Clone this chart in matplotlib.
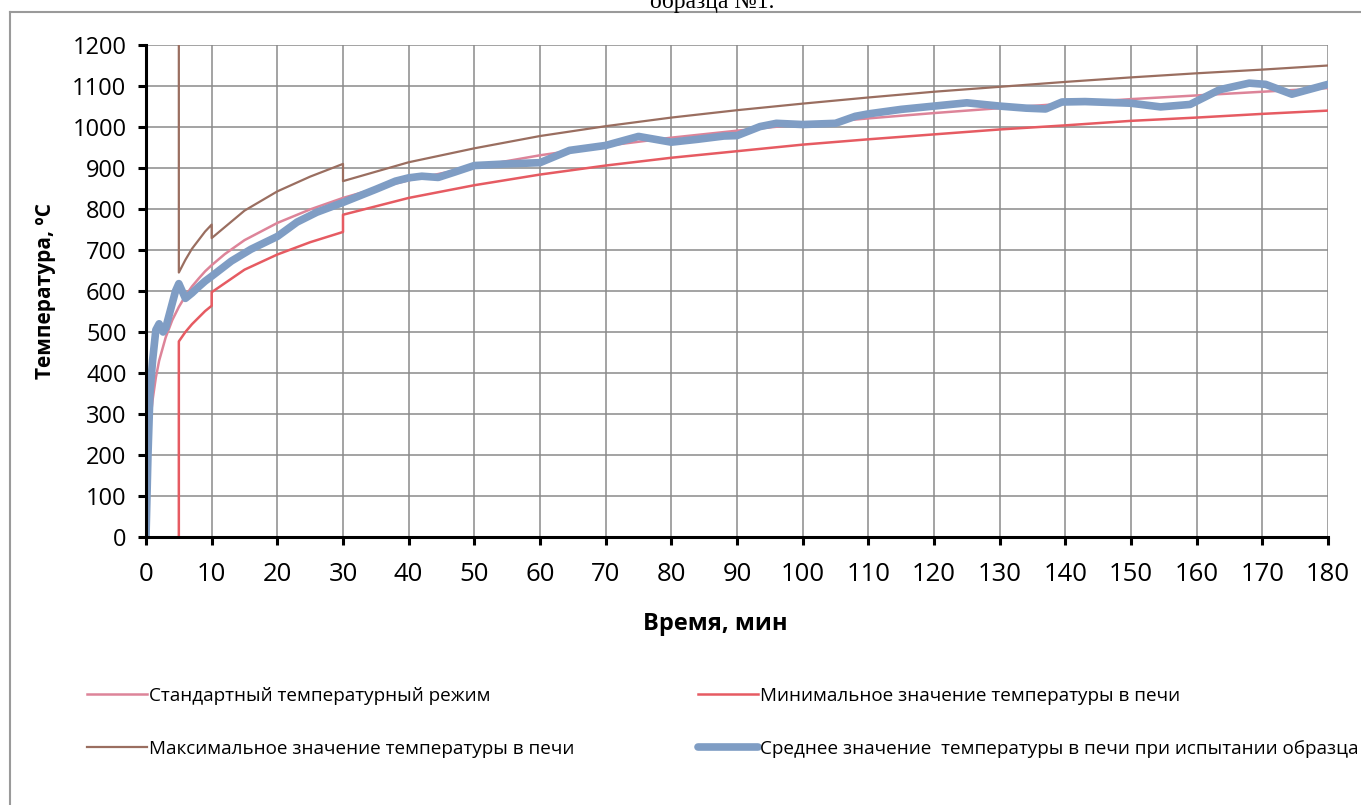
import matplotlib
matplotlib.use("Agg")
import matplotlib.pyplot as plt
from matplotlib.lines import Line2D

plt.rcParams['font.family'] = ['Open Sans', 'DejaVu Sans']

# standard fire curve
std_t = [0, 0.25, 0.5, 0.75, 1, 1.5, 2, 3, 4, 5, 6, 7, 8, 9, 10, 12, 15, 20, 25, 30,
         35, 40, 45, 50, 60, 70, 80, 90, 100, 110, 120, 130, 140, 150, 160, 170, 180]
std_T = [5, 170, 246, 297, 334, 389, 430, 487, 529, 561, 588, 611, 630, 648, 663, 690, 724, 766, 799, 827,
         850, 870, 887, 903, 931, 954, 974, 991, 1007, 1021, 1034, 1046, 1057, 1068, 1077, 1086, 1095]

# lower tolerance limit
min_t = [5, 5, 6, 7, 8, 9, 10, 10, 15, 20, 25, 30, 30, 40, 50, 60, 70, 80, 90,
         100, 110, 120, 130, 140, 150, 160, 170, 180]
min_T = [0, 477, 500, 519, 535, 551, 564, 597, 652, 689, 719, 744, 786, 827, 858, 884, 906, 925, 941,
         957, 970, 982, 994, 1004, 1015, 1023, 1032, 1040]

# upper tolerance limit
max_t = [5, 5, 6, 7, 8, 9, 10, 10, 15, 20, 25, 30, 30, 40, 50, 60, 70, 80, 90,
         100, 110, 120, 130, 140, 150, 160, 170, 180]
max_T = [1250, 645, 676, 703, 724, 745, 762, 729, 796, 843, 879, 910, 868, 914, 948, 978, 1002, 1023, 1041,
         1057, 1072, 1086, 1098, 1110, 1121, 1131, 1140, 1150]

# measured mean furnace temperature
avg_t = [0, 0.3, 0.6, 1, 1.5, 2, 2.6, 3, 3.5, 4, 4.5, 5, 5.5, 6, 7, 8, 9, 10, 13, 16, 20, 23, 26, 30,
         35, 38, 40, 42, 44.5, 47, 50, 55, 60, 64.5, 70, 75, 80, 84, 88, 90, 93.5, 96, 100, 105, 108,
         110, 115, 120, 125, 130, 134, 137, 139.5, 143, 150, 154.5, 159, 163.5, 168, 170.5, 174.5, 177, 180]
avg_T = [0, 200, 350, 430, 505, 520, 500, 510, 540, 570, 600, 618, 600, 582, 595, 610, 624, 636, 673, 702, 733, 768, 792, 816,
         848, 868, 876, 880, 877, 890, 906, 910, 913, 943, 955, 977, 963, 970, 978, 979, 1001, 1009, 1006, 1009, 1026,
         1032, 1043, 1051, 1059, 1051, 1046, 1044, 1061, 1062, 1058, 1049, 1055, 1091, 1107, 1104, 1080, 1091, 1104]

labels = ['Стандартный температурный режим',
          'Минимальное значение температуры в печи',
          'Максимальное значение температуры в печи',
          'Среднее значение  температуры в печи при испытании образца']

c_std = '#dd8499'
c_min = '#e65b62'
c_max = '#9a6e60'
c_avg = '#7f9dc4'

fig = plt.figure(figsize=(13.61, 8.05), dpi=100)
ax = fig.add_axes([146 / 1361, 1 - 537 / 805, (1328 - 146) / 1361, (537 - 45) / 805])

l_std, = ax.plot(std_t, std_T, color=c_std, lw=1.8)
l_min, = ax.plot(min_t, min_T, color=c_min, lw=1.8)
l_max, = ax.plot(max_t, max_T, color=c_max, lw=1.6)
l_avg, = ax.plot(avg_t, avg_T, color=c_avg, lw=5.5, solid_capstyle='round', solid_joinstyle='round')

ax.set_xlim(0, 180)
ax.set_ylim(0, 1200)
ax.set_xticks(range(0, 181, 10))
ax.set_yticks(range(0, 1201, 100))
ax.grid(True, color='#8a8a8a', lw=1.1)
ax.set_axisbelow(True)
for s in ['top', 'right']:
    ax.spines[s].set_visible(False)
for s in ['left', 'bottom']:
    ax.spines[s].set_linewidth(2.2)
ax.tick_params(axis='y', direction='out', length=6, width=2.2, labelsize=17, pad=8)
ax.tick_params(axis='x', direction='out', length=6, width=2.2, labelsize=18.5, pad=12)

ax.set_xlabel('Время, мин', fontsize=17, fontweight='bold')
ax.xaxis.set_label_coords((715 - 146) / (1328 - 146), -(612 - 537) / (537 - 45))
ax.set_ylabel('Температура, ºС', fontsize=15, fontweight='bold', labelpad=12)

leg1 = fig.legend([l_std, l_max], [labels[0], labels[2]], loc='upper left',
                  bbox_to_anchor=(70 / 1361, 1 - 670 / 805), frameon=False, fontsize=13.6,
                  handlelength=3.2, handletextpad=0.1, labelspacing=1.85)
leg2 = fig.legend([l_min, l_avg], [labels[1], labels[3]], loc='upper left',
                  bbox_to_anchor=(681 / 1361, 1 - 670 / 805), frameon=False, fontsize=13.6,
                  handlelength=3.2, handletextpad=0.1, labelspacing=1.85)

# outer chart frame and the cut-off caption above it
fig.add_artist(Line2D([10 / 1361, 1], [1 - 12 / 805, 1 - 12 / 805], color='#9a9a9a', lw=1.5))
fig.add_artist(Line2D([10 / 1361, 10 / 1361], [0, 1 - 12 / 805], color='#9a9a9a', lw=1.5))
fig.text(712 / 1361, 1 - 8 / 805, 'образца №1.', family='Liberation Serif', fontsize=17,
         ha='center', va='baseline')

fig.savefig('out.png', dpi=100)
